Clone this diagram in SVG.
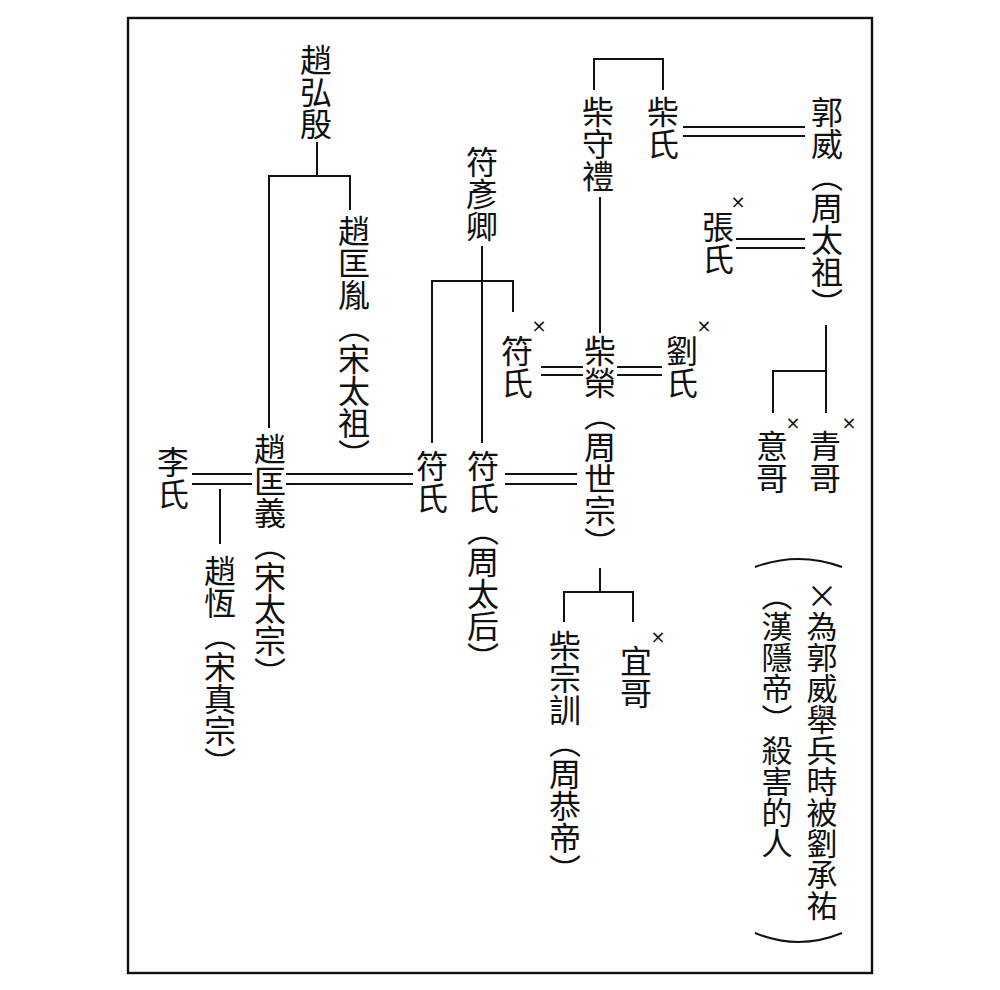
<svg xmlns="http://www.w3.org/2000/svg" width="1000" height="990" viewBox="0 0 1000 990">
<style>
.v{font-family:"Noto Sans CJK TC","Noto Sans CJK SC",sans-serif;font-size:32px;writing-mode:vertical-rl;fill:#111;}
.n{font-size:31px;}
.x{font-family:"DejaVu Sans",sans-serif;font-size:18px;fill:#111;text-anchor:middle;}
.ln{fill:none;stroke:#111;stroke-width:2;}
</style>
<rect x="0" y="0" width="1000" height="990" fill="#fff"/>
<rect x="128" y="18" width="744" height="955" fill="none" stroke="#111" stroke-width="2.4"/>
<g id="connectors" class="ln">
<path d="M317 142V176M269 428V176H350V210"/>
<path d="M482 246V443M432 443V281H513V312"/>
<path d="M541 367H583M541 375H583"/>
<path d="M617 367H662M617 375H662"/>
<path d="M594 90V59H663V90"/>
<path d="M600 197V333"/>
<path d="M683 127H805M683 136H805"/>
<path d="M736 239H805M736 248H805"/>
<path d="M826 325V413M773 413V371H826"/>
<path d="M192 474H252M192 484H252"/>
<path d="M220 489V544"/>
<path d="M286 474H413M286 484H413"/>
<path d="M505 474H577M505 484H577"/>
<path d="M600 568V592M564 622V592H633V622"/>
</g>
<g id="n-zhaohongyin"><text class="v" x="316" y="44">趙弘殷</text></g>
<g id="n-zhaokuangyin"><text class="v" x="354" y="215">趙匡胤（宋太祖）</text></g>
<g id="n-fuyanqing"><text class="v" x="482" y="146">符彥卿</text></g>
<g id="n-fushi1"><text class="v" x="517" y="335">符氏</text><text class="x" x="539" y="332">×</text></g>
<g id="n-chaishouli"><text class="v" x="598" y="96">柴守禮</text></g>
<g id="n-chaishi"><text class="v" x="663" y="96">柴氏</text></g>
<g id="n-guowei"><text class="v" x="827" y="96">郭威（周太祖）</text></g>
<g id="n-zhangshi"><text class="v" x="718" y="211">張氏</text><text class="x" x="738" y="208">×</text></g>
<g id="n-chairong"><text class="v" x="600" y="335">柴榮（周世宗）</text></g>
<g id="n-liushi"><text class="v" x="682" y="335">劉氏</text><text class="x" x="704" y="332">×</text></g>
<g id="n-yige"><text class="v" x="772" y="430">意哥</text><text class="x" x="793" y="429">×</text></g>
<g id="n-qingge"><text class="v" x="825" y="430">青哥</text><text class="x" x="849" y="429">×</text></g>
<g id="n-lishi"><text class="v" x="173" y="446">李氏</text></g>
<g id="n-zhaokuangyi"><text class="v" x="270" y="433">趙匡義（宋太宗）</text></g>
<g id="n-zhaoheng"><text class="v" x="220" y="555">趙恆（宋真宗）</text></g>
<g id="n-fushi2"><text class="v" x="432" y="450">符氏</text></g>
<g id="n-fushi3"><text class="v" x="483" y="450">符氏（周太后）</text></g>
<g id="n-chaizongxun"><text class="v" x="565" y="630">柴宗訓（周恭帝）</text></g>
<g id="n-yige2"><text class="v" x="636" y="645">宜哥</text><text class="x" x="658" y="643">×</text></g>
<g id="note">
<path class="ln" d="M755 567Q798.5 551 842 567M755 933Q798.5 951 842 933" stroke-width="1.8"/>
<text class="v n" x="822" y="580">×為郭威舉兵時被劉承祐</text>
<text class="v n" x="777" y="580">（漢隱帝）殺害的人</text>
</g>
</svg>
